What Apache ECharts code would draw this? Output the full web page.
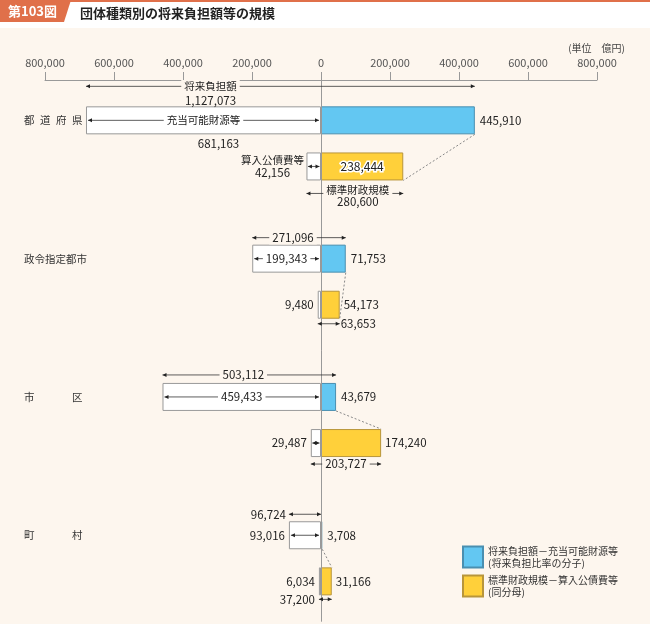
<!DOCTYPE html>
<html><head><meta charset="utf-8">
<script src="https://cdn.jsdelivr.net/npm/echarts@6/dist/echarts.min.js"></script>
<style>html,body{margin:0;padding:0;background:#fff;}#c{width:650px;height:624px;}</style>
</head><body><div id="c"></div>
<script>
// ---- data (億円) ----
const categories = ['都道府県', '政令指定都市', '市区', '町村'];
const futureBurden   = [1127073, 271096, 503112, 96724];   // 将来負担額
const availableFunds = [681163, 199343, 459433, 93016];    // 充当可能財源等
const numerator      = [445910, 71753, 43679, 3708];       // 将来負担額－充当可能財源等
const standardScale  = [280600, 63653, 203727, 37200];     // 標準財政規模
const debtService    = [42156, 9480, 29487, 6034];         // 算入公債費等
const denominator    = [238444, 54173, 174240, 31166];     // 標準財政規模－算入公債費等
const axisMin = -800000, axisMax = 800000, axisInterval = 200000;

const FONT = '"Noto Sans CJK JP","Noto Sans",sans-serif';
const CREAM = '#fdf6ee';
const fmt = v => Math.abs(v).toLocaleString('en-US');
const blueName = '将来負担額－充当可能財源等';
const yellowName = '標準財政規模－算入公債費等';
const legendSub = {}; legendSub[blueName] = '(将来負担比率の分子)'; legendSub[yellowName] = '(同分母)';

// ---- layout (slot rows on the category axis) ----
const SLOTS = 47;
const upRow = g => 3 + 12 * g;
const loRow = g => 7 + 12 * g;
const BAR_W = 28;

const yData = new Array(SLOTS).fill('');
categories.forEach((c, g) => { yData[upRow(g)] = c; });

const whiteData = new Array(SLOTS).fill('-');
const blueData = new Array(SLOTS).fill('-');
const yellowData = new Array(SLOTS).fill('-');
categories.forEach((c, g) => {
  whiteData[upRow(g)] = -availableFunds[g];
  whiteData[loRow(g)] = -debtService[g];
  blueData[upRow(g)] = numerator[g];
  yellowData[loRow(g)] = g === 0
    ? { value: denominator[g], label: { position: 'inside', textBorderColor: '#fff', textBorderWidth: 3, fontSize: 12 } }
    : denominator[g];
});

// category label justification via rich widths
const LABEL_W = 58, CH = 10.5;
const rich = {};
function catLabel(name) {
  if (!name) return '';
  const n = name.length;
  if (n >= 5) return name;
  const gap = (LABEL_W - n * CH) / (n - 1);
  const w = Math.round(CH + gap);
  rich['w' + w] = { width: w, align: 'left', fontSize: CH, color: '#333', fontFamily: FONT };
  rich.last = { fontSize: CH, color: '#333', fontFamily: FONT };
  return name.split('').map((ch, i) => i < n - 1 ? `{w${w}|${ch}}` : `{last|${ch}}`).join('');
}
yData.forEach(n => catLabel(n));

const groupLayout = [
  { topDy: -34, top: 'title', botDy: 27, bot: 'title', dash: 14, inner: 'label', lowArrow: true, low: 'stack' },
  { topDy: -21, top: 'mid', botDy: 19, bot: 'right', dash: 14, inner: 'label', lowArrow: false, low: 'left' },
  { topDy: -22, top: 'mid', botDy: 21, bot: 'mid', dash: -14, inner: 'label', lowArrow: true, low: 'left' },
  { topDy: -21, top: 'left', botDy: 18, bot: 'left', dash: -14, inner: 'plain', lowArrow: false, low: 'left' }
];

function arrow(ch, x1, x2, y) {
  ch.push({ type: 'line', shape: { x1: x1, y1: y, x2: x2, y2: y }, style: { stroke: '#333', lineWidth: 0.8 } });
  const h = 4, w = 2;
  ch.push({ type: 'polygon', shape: { points: [[x1, y], [x1 + h, y - w], [x1 + h, y + w]] }, style: { fill: '#222' } });
  ch.push({ type: 'polygon', shape: { points: [[x2, y], [x2 - h, y - w], [x2 - h, y + w]] }, style: { fill: '#222' } });
}
function txt(ch, s, x, y, align, opt) {
  opt = opt || {};
  const style = {
    text: s, fill: '#222', font: (opt.size || 11.5) + 'px ' + FONT,
    align: align, verticalAlign: 'middle'
  };
  if (opt.bg) { style.backgroundColor = opt.bg; style.padding = [1, 3]; }
  if (opt.lh) style.lineHeight = opt.lh;
  if (opt.rich) style.rich = opt.rich;
  ch.push({ type: 'text', x: x, y: y, z2: 20, style: style });
}

function renderItem(params, api) {
  const g = api.value(2);
  const L = groupLayout[g];
  const up = upRow(g), lo = loRow(g);
  const P = (v, row) => api.coord([v, row]);
  const xL = P(-availableFunds[g], up)[0];
  const x0 = P(0, up)[0];
  const xB = P(numerator[g], up)[0];
  const yU = P(0, up)[1];
  const yLo = P(0, lo)[1];
  const xDL = P(-debtService[g], lo)[0];
  const xY = P(denominator[g], lo)[0];
  const ch = [];
  const half = BAR_W / 2;

  // top dimension: 将来負担額
  const yT = yU + L.topDy;
  if (L.top === 'title') {
    arrow(ch, xL, xB, yT);
    txt(ch, '将来負担額', (xL + x0) / 2 + 7, yT, 'center', { bg: CREAM, size: 10.5 });
    txt(ch, fmt(futureBurden[g]), (xL + x0) / 2 + 7, yT + 14, 'center');
  } else if (L.top === 'mid') {
    arrow(ch, xL, xB, yT);
    txt(ch, fmt(futureBurden[g]), (xL + xB) / 2 - 6, yT, 'center', { bg: CREAM });
  } else {
    arrow(ch, xL, x0, yT);
    txt(ch, fmt(futureBurden[g]), xL - 3, yT, 'right');
  }

  // inner dimension: 充当可能財源等
  arrow(ch, xL + 2, x0 - 2, yU);
  if (g === 0) {
    txt(ch, '充当可能財源等', (xL + x0) / 2, yU, 'center', { bg: '#fff', size: 10.5 });
    txt(ch, fmt(availableFunds[g]), (xL + x0) / 2 + 15, yU + 23, 'center');
  } else if (L.inner === 'label') {
    txt(ch, fmt(availableFunds[g]), (xL + x0) / 2, yU, 'center', { bg: '#fff' });
  } else {
    txt(ch, fmt(availableFunds[g]), xL - 4, yU, 'right');
  }

  // lower row: 算入公債費等
  if (L.lowArrow) arrow(ch, xDL + 1.5, x0 - 1.5, yLo);
  if (L.low === 'stack') {
    txt(ch, '{t|算入公債費等}\n{n|' + fmt(debtService[g]) + '}', xDL - 34, yLo, 'center', {
      rich: {
        t: { fontSize: 10.5, lineHeight: 12, fill: '#222', fontFamily: FONT },
        n: { fontSize: 11.5, lineHeight: 12, fill: '#222', fontFamily: FONT }
      }
    });
  } else {
    txt(ch, fmt(debtService[g]), xDL - 4, yLo, 'right');
  }

  // bottom dimension: 標準財政規模
  const yBt = yLo + L.botDy;
  arrow(ch, xDL, xY, yBt);
  if (L.bot === 'title') {
    txt(ch, '標準財政規模', (xDL + xY) / 2 + 3, yBt - 3, 'center', { bg: CREAM, size: 10.5 });
    txt(ch, fmt(standardScale[g]), (xDL + xY) / 2 + 3, yBt + 8, 'center');
  } else if (L.bot === 'mid') {
    txt(ch, fmt(standardScale[g]), (xDL + xY) / 2, yBt, 'center', { bg: CREAM });
  } else if (L.bot === 'right') {
    txt(ch, fmt(standardScale[g]), xY + 1, yBt, 'left');
  } else {
    txt(ch, fmt(standardScale[g]), xDL - 4, yBt, 'right');
  }

  // dashed connector
  ch.push({
    type: 'line',
    shape: { x1: xB, y1: yU + half, x2: xY, y2: yLo + L.dash },
    style: { stroke: '#888', lineWidth: 1, lineDash: [2, 2] }
  });
  return { type: 'group', children: ch };
}

const chart = echarts.init(document.getElementById('c'));
chart.setOption({
  backgroundColor: CREAM,
  animation: false,
  textStyle: { fontFamily: FONT },
  grid: { left: 45, right: 53, top: 80, height: 541.7 },
  xAxis: {
    type: 'value', position: 'top', min: axisMin, max: axisMax, interval: axisInterval,
    axisLine: { show: true, onZero: false, lineStyle: { color: '#999' } },
    axisTick: { show: true, length: 8, lineStyle: { color: '#999' } },
    axisLabel: { formatter: v => fmt(v), color: '#555', fontSize: 11, margin: 12, fontFamily: FONT },
    splitLine: { show: false }
  },
  yAxis: {
    type: 'category', inverse: true, data: yData,
    axisLine: { show: false }, axisTick: { show: false }, splitLine: { show: false },
    axisLabel: { interval: 0, align: 'left', margin: 21, formatter: v => catLabel(v), rich: rich, color: '#333', fontSize: 10.5 }
  },
  legend: {
    data: [blueName, yellowName], orient: 'vertical', left: 462, top: 545, padding: 0,
    itemWidth: 20, itemHeight: 21, itemGap: 5, icon: 'rect',
    textStyle: { fontSize: 10, lineHeight: 12, color: '#333', fontFamily: FONT },
    formatter: name => name + '\n' + legendSub[name],
    selectedMode: false
  },
  graphic: [
    { type: 'rect', shape: { x: 0, y: 0, width: 650, height: 28 }, style: { fill: '#fff' } },
    { type: 'rect', shape: { x: 0, y: 0, width: 650, height: 2 }, style: { fill: '#e0704a' } },
    { type: 'polygon', shape: { points: [[0, 0], [71, 0], [64, 22], [0, 22]] }, style: { fill: '#e0704a' } },
    { type: 'text', x: 8, y: 11.5, style: { text: '第103図', fill: '#fff', font: 'bold 13px ' + FONT, verticalAlign: 'middle' } },
    { type: 'text', x: 80, y: 13, style: { text: '団体種類別の将来負担額等の規模', fill: '#222', font: 'bold 13px ' + FONT, verticalAlign: 'middle' } },
    { type: 'text', x: 625, y: 48, style: { text: '(単位　億円)', fill: '#444', font: '10px ' + FONT, align: 'right', verticalAlign: 'middle' } }
  ],
  series: [
    {
      type: 'bar', name: '充当', data: whiteData, barWidth: BAR_W, barGap: '-100%', silent: true,
      itemStyle: { color: '#fff', borderColor: '#999', borderWidth: 1 },
      markLine: { symbol: 'none', silent: true, label: { show: false }, lineStyle: { color: '#999', width: 1, type: 'solid' }, data: [{ xAxis: 0 }] }
    },
    {
      type: 'bar', name: blueName, data: blueData, barWidth: BAR_W, barGap: '-100%', silent: true,
      itemStyle: { color: '#63c7f2', borderColor: '#4a8fb0', borderWidth: 1 },
      label: { show: true, position: 'right', distance: 5, formatter: p => fmt(p.value), color: '#222', fontSize: 11.5, fontFamily: FONT }
    },
    {
      type: 'bar', name: yellowName, data: yellowData, barWidth: BAR_W, barGap: '-100%', silent: true,
      itemStyle: { color: '#ffd03a', borderColor: '#b8953a', borderWidth: 1 },
      label: { show: true, position: 'right', distance: 4, formatter: p => fmt(p.value), color: '#222', fontSize: 11.5, fontFamily: FONT }
    },
    {
      type: 'custom', silent: true, z: 10,
      data: categories.map((c, g) => [0, upRow(g), g]),
      encode: { x: 0, y: 1 },
      renderItem: renderItem
    }
  ]
});
</script>
</body></html>
